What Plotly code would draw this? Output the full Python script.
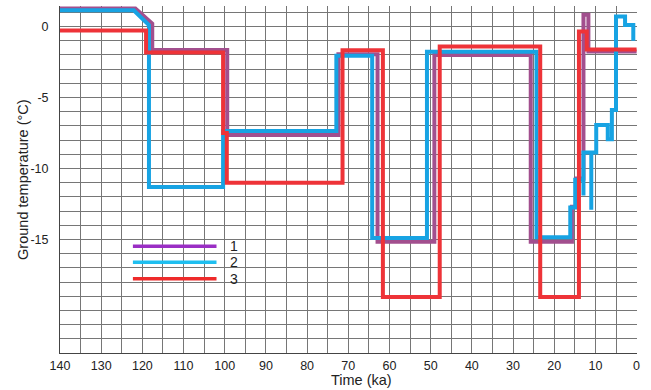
import plotly.graph_objects as go

# ---- data ----
ka_1 = [140, 121.7, 117.6, 117.6, 99.4, 99.4, 72.4, 72.4, 62.9, 62.9, 49.1, 49.1, 25.7, 25.7,
        15.7, 15.7, 14.6, 14.6, 12.9, 12.9, 11.7, 11.7, 0]
t_1 = [1.28, 1.28, 0.2, -1.65, -1.65, -7.64, -7.64, -1.95, -1.95, -15.17, -15.17, -2.0, -2.0, -15.17,
       -15.17, -12.7, -12.7, -10.7, -10.7, 0.83, 0.83, -1.76, -1.76]

ka_2 = [140, 122.1, 118.4, 118.4, 100.4, 100.4, 72.9, 72.9, 64.2, 64.2, 50.9, 50.9, 24.3, 24.3,
        16.1, 16.1, 14.9, 14.9, 12.9, 12.9, 12.9, 11.0, 11.0, 11.0, 9.8, 9.8, 7.0, 7.0, 6.0, 6.0,
        5.0, 5.0, 2.8, 2.8, 0.8, 0.8]
t_2 = [1.15, 1.15, 0.1, -11.3, -11.3, -7.35, -7.35, -2.05, -2.05, -14.9, -14.9, -1.78, -1.78, -14.85,
       -14.85, -12.75, -12.75, -10.8, -10.8, -11.9, -8.87, -8.87, -12.9, -8.87, -8.87, -6.94, -6.94,
       -7.94, -7.94, -5.88, -5.88, 0.71, 0.71, 0.12, 0.12, -0.99]

ka_3 = [140, 119.1, 119.1, 100.4, 100.4, 99.5, 99.5, 71.4, 71.4, 61.6, 61.6, 47.8, 47.8, 23.4,
        23.4, 14.0, 14.0, 12.1, 12.1, 0]
t_3 = [-0.28, -0.28, -1.83, -1.83, -7.5, -7.5, -11.0, -11.0, -1.67, -1.67, -19.05, -19.05, -1.41, -1.41,
       -19.05, -19.05, -0.35, -0.35, -1.62, -1.62]

series_names = ["1", "2", "3"]
x_ticks = [140, 130, 120, 110, 100, 90, 80, 70, 60, 50, 40, 30, 20, 10, 0]
y_ticks = [0, -5, -10, -15]

# ---- styles ----
line_colors = ["#a24f8e", "#17a3e3", "#ee3338"]
legend_colors = ["#9a2ec4", "#1fbff0", "#ee2a2a"]
grid_col = "#767676"
font_fam = "Liberation Sans, Arial, sans-serif"

fig = go.Figure()
for xs, ys, col, nm in zip([ka_1, ka_2, ka_3], [t_1, t_2, t_3], line_colors, series_names):
    fig.add_trace(go.Scatter(x=xs, y=ys, mode="lines", name=nm,
                             line=dict(color=col, width=4), showlegend=False,
                             hoverinfo="skip"))

# legend drawn inside the plot
leg_x0, leg_x1, leg_txt_x = 122.3, 102.0, 97.8
leg_ys = [-15.48, -16.6, -17.76]
shapes = []
annotations = []
for yv, col, nm in zip(leg_ys, legend_colors, series_names):
    shapes.append(dict(type="line", xref="x", yref="y", x0=leg_x0, x1=leg_x1, y0=yv, y1=yv,
                       line=dict(color=col, width=3.5), layer="above"))
    annotations.append(dict(x=leg_txt_x, y=yv, xref="x", yref="y", text=nm, showarrow=False,
                            font=dict(size=14, color="#222", family=font_fam),
                            xanchor="center", yanchor="middle"))

# mask grid above +1 (lines overflow slightly above the grid in the original)
shapes.append(dict(type="rect", xref="paper", yref="y", x0=-0.002, x1=1.01, y0=1.0, y1=1.6,
                   fillcolor="white", line=dict(width=0), layer="between"))

annotations.append(dict(text="Time (ka)", xref="paper", yref="paper", x=0.522, y=-0.078,
                        showarrow=False, xanchor="center", yanchor="middle",
                        font=dict(size=14.5, color="#222", family=font_fam)))
annotations.append(dict(text="Ground temperature (°C)", xref="paper", yref="paper", x=-0.064,
                        y=0.499, showarrow=False, textangle=-90, xanchor="center",
                        yanchor="middle", font=dict(size=14.5, color="#222", family=font_fam)))

fig.update_layout(
    width=651, height=390,
    margin=dict(l=60, r=14, t=6, b=37),
    paper_bgcolor="white", plot_bgcolor="white",
    shapes=shapes, annotations=annotations,
    font=dict(family=font_fam, color="#222"),
    xaxis=dict(range=[140, -0.1], tickvals=x_ticks, ticktext=[str(v) for v in x_ticks],
               showgrid=True, gridcolor=grid_col, gridwidth=1,
               minor=dict(dtick=5, tick0=0, showgrid=True, gridcolor=grid_col, gridwidth=1),
               showline=True, linecolor="#444", linewidth=1, ticks="", zeroline=False,
               tickfont=dict(size=12.5, color="#222"), ticklabelstandoff=1),
    yaxis=dict(range=[-23, 1.45], tickvals=y_ticks, ticktext=[str(v) for v in y_ticks],
               showgrid=True, gridcolor=grid_col, gridwidth=1,
               minor=dict(dtick=1, tick0=0, showgrid=True, gridcolor=grid_col, gridwidth=1),
               showline=True, linecolor="#444", linewidth=1, ticks="", zeroline=False,
               tickfont=dict(size=12.5, color="#222"), ticklabelstandoff=8),
)

fig.write_html("out.html", config={"displayModeBar": False, "staticPlot": True},
               post_script="document.body.style.margin='0';document.body.style.overflow='hidden';")
